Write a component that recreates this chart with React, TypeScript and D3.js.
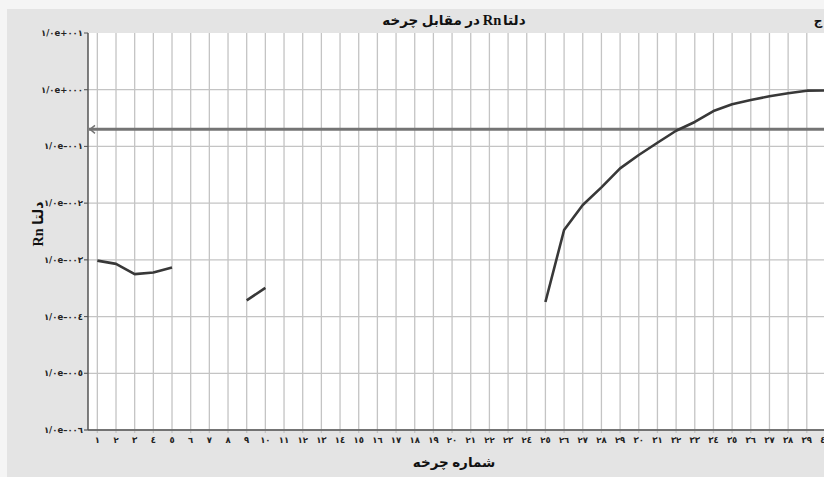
import * as d3 from "d3";
import React from "react";

// cycles and delta Rn values (null = no data)
const cycles = d3.range(1, 41);
const deltaRn: (number | null)[] = [
  0.00097, 0.00085, 0.00056, 0.0006, 0.00073,
  null, null, null,
  0.000193, 0.00032,
  null, null, null, null, null, null, null, null, null, null, null, null, null, null,
  0.000181, 0.00336, 0.0093, 0.019, 0.041, 0.0706, 0.116, 0.189, 0.27, 0.42,
  0.553, 0.659, 0.766, 0.865, 0.962, 0.97,
];
const threshold = 0.2;
const yTicks = [1e1, 1e0, 1e-1, 1e-2, 1e-3, 1e-4, 1e-5, 1e-6];

const LRM = "\u200E";
// title pieces (right-to-left reading order: دلتا, Rn, در مقابل چرخه)
const titleParts = ["دلتا", "Rn", "در مقابل چرخه"];
const xTitle = "شماره چرخه";
const yTitle = "Rn دلتا";

const arDigits = "٠١٢٣٤٥٦٧٨٩";
const toAr = (s: string) => s.replace(/[0-9]/g, (d) => arDigits[+d]);

const fmtTick = (v: number) => {
  const e = Math.round(Math.log10(v));
  const sign = e < 0 ? "–" : "+";
  return toAr(`1/0e${sign}${String(Math.abs(e)).padStart(3, "0")}`);
};

const W = 824;
const H = 477;
const plot = { left: 88, top: 33, bottom: 430, step: 18.67 };

export default function App() {
  const x = d3
    .scalePoint<number>()
    .domain(cycles)
    .range([plot.left, plot.left + cycles.length * plot.step])
    .padding(0.5);
  const y = d3.scaleLog().domain([1e-6, 1e1]).range([plot.bottom, plot.top]);

  const pts = cycles.map((c, i) => ({ c, v: deltaRn[i] }));
  const line = d3
    .line<{ c: number; v: number | null }>()
    .defined((d) => d.v != null)
    .x((d) => x(d.c) as number)
    .y((d) => y(d.v as number));

  const ty = y(threshold);
  const font = "'Liberation Serif', 'DejaVu Sans', serif";

  return (
    <div style={{ position: "absolute", left: 0, top: 0 }}>
      <svg width={W} height={H} style={{ display: "block" }}>
        <rect x={0} y={0} width={W} height={H} fill="#f5f5f5" />
        <rect x={7} y={9} width={W - 7} height={H - 9} fill="#e4e4e4" />
        <rect
          x={plot.left}
          y={plot.top}
          width={W - plot.left}
          height={plot.bottom - plot.top}
          fill="#ffffff"
        />
        {/* vertical grid */}
        {cycles.map((c) => (
          <line
            key={"v" + c}
            x1={x(c)}
            x2={x(c)}
            y1={plot.top}
            y2={plot.bottom + 3}
            stroke="#c4c4c4"
            strokeWidth={1.3}
          />
        ))}
        {/* horizontal grid */}
        {yTicks.map((t) => (
          <line
            key={"h" + t}
            x1={plot.left - 4}
            x2={W}
            y1={y(t)}
            y2={y(t)}
            stroke={t === 1e1 ? "none" : "#c4c4c4"}
            strokeWidth={1.3}
          />
        ))}
        {yTicks.map((t) => (
          <line key={"tk" + t} x1={plot.left - 4} x2={plot.left} y1={y(t)} y2={y(t)} stroke="#555" strokeWidth={1} />
        ))}
        {/* axes */}
        <line x1={plot.left} x2={plot.left} y1={plot.top} y2={plot.bottom} stroke="#555" strokeWidth={1.5} />
        <line x1={plot.left} x2={W} y1={plot.bottom} y2={plot.bottom} stroke="#555" strokeWidth={1.5} />

        {/* threshold */}
        <line x1={plot.left + 1} x2={W} y1={ty} y2={ty} stroke="#747474" strokeWidth={3} />
        <path
          d={`M${plot.left + 7},${ty - 4} L${plot.left + 2},${ty} L${plot.left + 7},${ty + 4}`}
          fill="none"
          stroke="#747474"
          strokeWidth={1.5}
        />

        {/* series */}
        <path
          d={line(pts) ?? ""}
          fill="none"
          stroke="#383838"
          strokeWidth={2.6}
          strokeLinejoin="round"
        />

        {/* tick labels */}
        {yTicks.map((t) => (
          <text
            key={"yl" + t}
            x={plot.left - 5}
            y={y(t) + 3}
            textAnchor="end"
            fontFamily="'DejaVu Sans', sans-serif"
            fontWeight="bold"
            fontSize={8.5}
            fill="#222"
            direction="ltr"
          >
            {LRM + fmtTick(t)}
          </text>
        ))}
        {cycles.map((c) => (
          <text
            key={"xl" + c}
            x={x(c)}
            y={plot.bottom + 13}
            textAnchor="middle"
            fontFamily="'DejaVu Sans', sans-serif"
            fontWeight="bold"
            fontSize={8.5}
            fill="#222"
          >
            {toAr(String(c))}
          </text>
        ))}

        {/* title, laid out right to left */}
        <g fontFamily={font} fontWeight="bold" fill="#111">
          <text x={503} y={25} textAnchor="start" fontSize={13.5}>
            {titleParts[0]}
          </text>
          <text x={492} y={25} textAnchor="middle" fontSize={14.5}>
            {titleParts[1]}
          </text>
          <text x={480} y={25} textAnchor="end" fontSize={13.5}>
            {titleParts[2]}
          </text>
        </g>
        <text x={818} y={25} textAnchor="middle" fontFamily={font} fontWeight="bold" fontSize={12} fill="#111">
          ج
        </text>
        <text x={454} y={467} textAnchor="middle" fontFamily={font} fontWeight="bold" fontSize={13.5} fill="#111">
          {xTitle}
        </text>
        <text
          transform={`translate(43,224) rotate(-90)`}
          textAnchor="middle"
          fontFamily={font}
          fontWeight="bold"
          fontSize={14}
          fill="#111"
          direction="ltr"
        >
          {LRM + yTitle}
        </text>
      </svg>
    </div>
  );
}
